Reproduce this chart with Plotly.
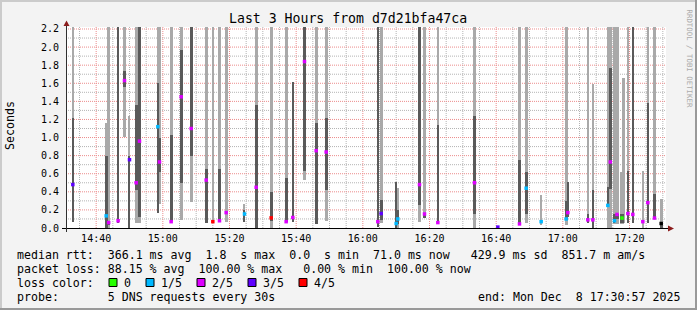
import plotly.graph_objects as go

# ---------------- data ----------------
DAY = "2025-12-08 "
X_START = "14:30:57"
X_END = "17:30:57"

# one entry per smoke step (time of step centre, step duration in seconds)
times = ["14:33:00", "14:43:00", "14:43:45", "14:46:35", "14:48:30", "14:50:00", "14:52:00",
         "14:53:00", "14:58:30", "14:59:00", "15:02:30", "15:05:30", "15:08:30", "15:13:00",
         "15:15:00", "15:17:00", "15:19:00", "15:24:30", "15:28:00", "15:32:30", "15:37:00",
         "15:39:00", "15:42:30", "15:46:00", "15:49:00", "16:04:30", "16:05:30", "16:10:00",
         "16:10:30", "16:17:00", "16:18:30", "16:22:30", "16:33:30", "16:40:30", "16:47:00",
         "16:49:00", "16:53:30", "17:01:00", "17:01:30", "17:07:30", "17:09:00", "17:13:30",
         "17:14:15", "17:15:30", "17:16:15", "17:17:45", "17:18:15", "17:19:30", "17:21:00",
         "17:24:00", "17:25:30", "17:27:30", "17:29:30"]
dur_s = [30, 60, 30, 30, 60, 30, 60,
         60, 30, 60, 60, 60, 60, 60,
         30, 60, 60, 30, 60, 60, 60,
         30, 60, 60, 60, 30, 60, 30,
         30, 60, 60, 30, 60, 30, 60,
         60, 30, 60, 30, 30, 30, 30,
         60, 30, 60, 60, 30, 30, 30,
         30, 30, 60, 60]
# outer smoke (all pings) range, seconds; 2.3 = beyond the top of the scale
light_lo = [0.063, 0.0, 0.0, None, 1.01, 0.0, 0.06,
            0.06, 0.17, 0.26, 0.073, 0.09, 0.29, 0.055,
            0.06, 0.07, 0.07, 0.07, 0.0, 0.0, 0.07,
            None, 0.53, 0.04, 0.08, None, 0.06, None,
            0.0, 0.07, 0.11, 0.055, 0.0, None, 0.045,
            0.05, 0.03, 0.03, None, 0.05, 0.0, 0.0,
            0.0, 0.04, 0.04, 0.04, 0.05, 0.05, None,
            0.0, 0.05, 0.11, 0.0]
light_hi = [2.3, 1.16, 2.3, None, 2.3, 1.24, 2.3,
            2.3, 2.3, 2.3, 2.3, 2.3, 2.3, 2.3,
            2.3, 2.3, 2.3, 0.27, 2.3, 2.3, 2.3,
            None, 2.3, 2.3, 2.3, None, 2.3, None,
            0.44, 2.3, 2.3, 2.3, 2.3, None, 2.3,
            2.3, 0.37, 2.3, None, 2.3, 1.59, 2.3,
            2.3, 2.3, 2.3, 0.62, 1.66, 2.3, None,
            0.63, 2.3, 2.3, 0.32]
# inner smoke range
dark_lo = [0.063, 0.0, 0.03, 0.05, 1.56, 0.0, 0.42,
           0.12, 0.17, 0.62, 0.073, 0.50, 0.80, 0.055,
           None, 0.07, None, 0.07, 0.0, 0.08, 0.07,
           0.07, 0.63, 0.04, 0.42, 0.01, 0.09, 0.0,
           0.04, 0.25, 0.11, 0.055, 0.15, None, 0.045,
           0.15, None, 0.09, 0.12, 0.05, 0.0, 0.25,
           0.43, 0.05, 0.10, 0.06, None, 0.05, 0.05,
           None, 0.05, 0.11, 0.0]
dark_hi = [1.22, 0.80, 0.08, 2.3, 1.74, 0.80, 1.36,
           2.3, 1.6, 1.0, 1.03, 1.97, 2.3, 0.65,
           None, 0.65, None, 0.20, 1.36, 0.40, 0.55,
           1.61, 2.3, 1.16, 1.22, 2.3, 0.31, 0.51,
           0.20, 2.3, 0.16, 1.14, 1.24, None, 0.75,
           0.62, None, 0.30, 0.51, 0.16, 0.42, 0.45,
           1.77, 0.16, 0.15, 0.15, None, 0.63, 2.3,
           None, 1.38, 0.38, 0.05]
median = [0.48, 0.134, 0.06, 0.08, 1.63, 0.755, 0.50,
          0.96, 1.12, 0.73, 0.07, 1.45, 1.10, 0.53,
          0.07, 0.08, 0.17, 0.155, 0.45, 0.112, 0.07,
          0.116, 1.84, 0.855, 0.84, 0.07, 0.16, 0.05,
          0.10, 0.48, 0.155, 0.06, 0.50, 0.01, 0.045,
          0.44, 0.07, 0.10, 0.17, 0.09, 0.09, 0.25,
          0.73, 0.08, 0.15, 0.11, None, 0.16, 0.15,
          0.07, 0.28, 0.11, 0.05]
loss = [3, 1, 2, 2, 2, 3, 2,
        2, 1, 2, 2, 2, 2, 2,
        4, 2, 2, 1, 2, 4, 2,
        2, 2, 2, 2, 2, 3, 1,
        1, 2, 2, 2, 2, 3, 2,
        1, 1, 1, 2, 2, 2, 1,
        2, 1, 2, 0, None, 2, 2,
        2, 2, 2, None]

loss_labels = ["0", "1/5", "2/5", "3/5", "4/5"]
loss_colors = ["#26ff00", "#00b8ff", "#dd00ff", "#5e00ff", "#ff0000"]

x_ticks = ["14:40", "15:00", "15:20", "15:40", "16:00", "16:20", "16:40", "17:00", "17:20"]
x_minor = ["14:35", "14:45", "14:50", "14:55", "15:05", "15:10", "15:15", "15:25", "15:30",
           "15:35", "15:45", "15:50", "15:55", "16:05", "16:10", "16:15", "16:25", "16:30",
           "16:35", "16:45", "16:50", "16:55", "17:05", "17:10", "17:15", "17:25", "17:30"]
y_ticks = [0.0, 0.2, 0.4, 0.6, 0.8, 1.0, 1.2, 1.4, 1.6, 1.8, 2.0, 2.2]
y_minor = [0.1, 0.3, 0.5, 0.7, 0.9, 1.1, 1.3, 1.5, 1.7, 1.9, 2.1]

title_text = "Last 3 Hours from d7d21bfa47ca"
y_title = "Seconds"
legend_lines = [
    "median rtt:  366.1 ms avg  1.8  s max  0.0  s min  71.0 ms now   429.9 ms sd  851.7 m am/s",
    "packet loss: 88.15 % avg  100.00 % max   0.00 % min  100.00 % now",
    "loss color:",
    "probe:       5 DNS requests every 30s",
]
end_text = "end: Mon Dec  8 17:30:57 2025"
watermark = "RRDTOOL / TOBI OETIKER"

# ---------------- styling / layout ----------------
W, H = 697, 310
L, T, PW, PH = 66, 27, 600, 201
MONO = "DejaVu Sans Mono"
LIGHT = "#a9a9a9"
DARK = "#5a5a5a"
MGRID = "#ec8c8c"
GRID = "#b4b4b4"
DOTS = "1px,1px"


def pxx(xp):
    return (xp - L) / PW


def pxy(yp):
    return (T + PH - yp) / PH


def nb(s):
    return s.replace(" ", "\u00a0")


fig = go.Figure()

# smoke
lx, lb, lh, lw = [], [], [], []
dx, db, dh, dw = [], [], [], []
for t, d, a, b, c, e in zip(times, dur_s, light_lo, light_hi, dark_lo, dark_hi):
    if a is not None:
        lx.append(DAY + t); lb.append(a); lh.append(b - a); lw.append(d * 1000)
    if c is not None:
        dx.append(DAY + t); db.append(c); dh.append(e - c); dw.append(d * 1000)

fig.add_trace(go.Bar(x=lx, base=lb, y=lh, width=lw, marker_color=LIGHT,
                     marker_line_width=0, hoverinfo="skip", showlegend=False))
fig.add_trace(go.Bar(x=dx, base=db, y=dh, width=dw, marker_color=DARK,
                     marker_line_width=0, hoverinfo="skip", showlegend=False))

# medians
mx, my, mc = [], [], []
for t, m, lo in zip(times, median, loss):
    if m is None:
        continue
    mx.append(DAY + t)
    my.append(m)
    mc.append("#000000" if lo is None else loss_colors[lo])
fig.add_trace(go.Scatter(x=mx, y=my, mode="markers",
                         marker=dict(symbol="square", size=3.5, color=mc, line_width=0),
                         hoverinfo="skip", showlegend=False, cliponaxis=False))

fig.update_layout(
    width=W, height=H,
    margin=dict(l=L, r=W - L - PW, t=T, b=H - T - PH, pad=0),
    paper_bgcolor="#f3f3f3", plot_bgcolor="#ffffff",
    barmode="overlay", bargap=0, showlegend=False,
    font=dict(family=MONO, color="#000000"),
)
fig.update_xaxes(
    type="date", range=[DAY + X_START, DAY + X_END],
    tickmode="array", tickvals=[DAY + t for t in x_ticks], ticktext=x_ticks,
    showgrid=False, showline=False, zeroline=False, ticks="",
    tickfont=dict(family=MONO, size=10, color="#000000"), ticklabelstandoff=3,
    fixedrange=True,
)
fig.update_yaxes(
    range=[0, 2.222], tickmode="array", tickvals=y_ticks,
    ticktext=["%.1f" % v for v in y_ticks],
    showgrid=False, showline=False, zeroline=False, ticks="",
    tickfont=dict(family=MONO, size=10, color="#000000"), ticklabelstandoff=6,
    fixedrange=True,
)

shapes = []
# grid (drawn on the axes' own scales)
for t in x_minor:
    shapes.append(dict(type="line", xref="x", yref="paper", x0=DAY + t, x1=DAY + t, y0=0, y1=1,
                       line=dict(color=GRID, width=1, dash=DOTS), layer="below"))
for v in y_minor:
    shapes.append(dict(type="line", xref="paper", yref="y", x0=0, x1=1, y0=v, y1=v,
                       line=dict(color=GRID, width=1, dash=DOTS), layer="below"))
for t in x_ticks:
    shapes.append(dict(type="line", xref="x", yref="paper", x0=DAY + t, x1=DAY + t, y0=0, y1=1,
                       line=dict(color=MGRID, width=1, dash=DOTS), layer="below"))
for v in y_ticks[1:]:
    shapes.append(dict(type="line", xref="paper", yref="y", x0=0, x1=1, y0=v, y1=v,
                       line=dict(color=MGRID, width=1, dash=DOTS), layer="below"))

# frame shading
shapes.append(dict(type="rect", xref="paper", yref="paper", x0=pxx(0), x1=pxx(2), y0=pxy(H), y1=pxy(0),
                   fillcolor="#cbcbcb", line_width=0, layer="above"))
shapes.append(dict(type="rect", xref="paper", yref="paper", x0=pxx(0), x1=pxx(W), y0=pxy(2), y1=pxy(0),
                   fillcolor="#cbcbcb", line_width=0, layer="above"))
shapes.append(dict(type="rect", xref="paper", yref="paper", x0=pxx(W - 2), x1=pxx(W), y0=pxy(H), y1=pxy(0),
                   fillcolor="#999999", line_width=0, layer="above"))
shapes.append(dict(type="rect", xref="paper", yref="paper", x0=pxx(0), x1=pxx(W), y0=pxy(H), y1=pxy(H - 2),
                   fillcolor="#999999", line_width=0, layer="above"))
# axes
shapes.append(dict(type="line", xref="paper", yref="paper", x0=pxx(62), x1=pxx(669),
                   y0=pxy(228.5), y1=pxy(228.5), line=dict(color="#000000", width=1), layer="above"))
shapes.append(dict(type="line", xref="paper", yref="paper", x0=pxx(66.5), x1=pxx(66.5),
                   y0=pxy(232), y1=pxy(24), line=dict(color="#303030", width=1), layer="above"))
# arrows
shapes.append(dict(type="path", xref="paper", yref="paper",
                   path="M %f %f L %f %f L %f %f Z" % (pxx(668), pxy(225.5), pxx(674), pxy(228.5), pxx(668), pxy(231.5)),
                   fillcolor="#8b1c1c", line_width=0, layer="above"))
shapes.append(dict(type="path", xref="paper", yref="paper",
                   path="M %f %f L %f %f L %f %f Z" % (pxx(63.5), pxy(26), pxx(66.5), pxy(20.5), pxx(69.5), pxy(26)),
                   fillcolor="#8b1c1c", line_width=0, layer="above"))

annotations = []
annotations.append(dict(text=nb(title_text), xref="paper", yref="paper", x=pxx(348), y=pxy(18.5),
                        xanchor="center", yanchor="middle", showarrow=False,
                        font=dict(family=MONO, size=13.2, color="#000000")))
annotations.append(dict(text=y_title, xref="paper", yref="paper", x=pxx(10), y=pxy(126),
                        xanchor="center", yanchor="middle", showarrow=False, textangle=-90,
                        font=dict(family=MONO, size=11.6, color="#000000")))
annotations.append(dict(text=nb(watermark), xref="paper", yref="paper", x=pxx(688.5), y=pxy(58),
                        xanchor="center", yanchor="middle", showarrow=False, textangle=90,
                        font=dict(family=MONO, size=7.4, color="#ababab")))
line_y = [254.5, 268.5, 282.5, 296.5]
for txt, yy in zip(legend_lines, line_y):
    annotations.append(dict(text=nb(txt), xref="paper", yref="paper", x=pxx(15), y=pxy(yy),
                            xanchor="left", yanchor="middle", showarrow=False,
                            font=dict(family=MONO, size=11.6, color="#000000")))
annotations.append(dict(text=nb(end_text), xref="paper", yref="paper", x=pxx(682), y=pxy(296.5),
                        xanchor="right", yanchor="middle", showarrow=False,
                        font=dict(family=MONO, size=11.6, color="#000000")))

# loss colour legend boxes
box_x = 109
for lab, col in zip(loss_labels, loss_colors):
    shapes.append(dict(type="rect", xref="paper", yref="paper", x0=pxx(box_x), x1=pxx(box_x + 8),
                       y0=pxy(286.5), y1=pxy(278.5), fillcolor=col,
                       line=dict(color="#000000", width=1), layer="above"))
    annotations.append(dict(text=nb(lab), xref="paper", yref="paper", x=pxx(box_x + 13), y=pxy(282.5),
                            xanchor="left", yanchor="middle", showarrow=False,
                            font=dict(family=MONO, size=11.6, color="#000000")))
    box_x += 14 + 7 * len(lab) + 16

fig.update_layout(shapes=shapes, annotations=annotations)
fig.write_html("out.html")
